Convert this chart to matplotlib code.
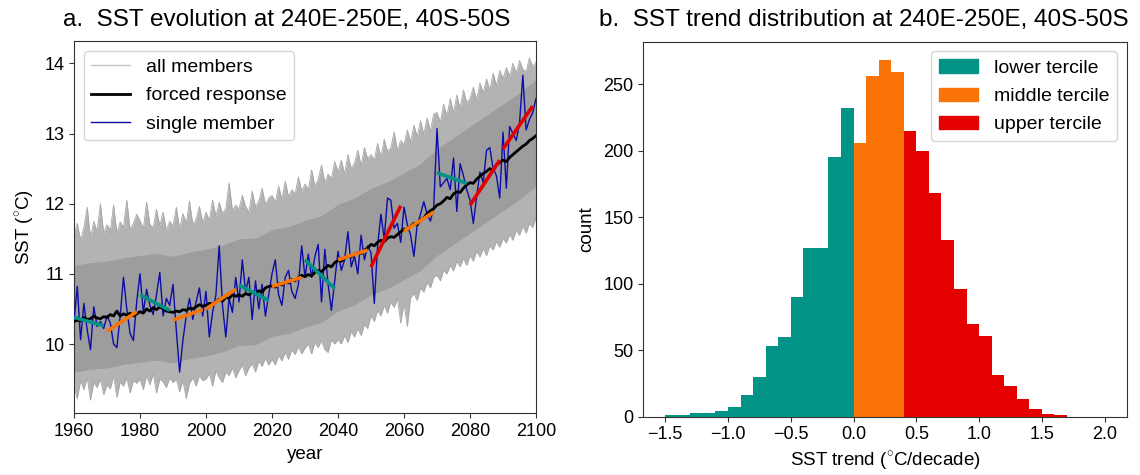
import numpy as np
import matplotlib
matplotlib.use("Agg")
import matplotlib.pyplot as plt
from matplotlib.patches import Patch

plt.rcParams['font.family'] = ['Liberation Sans', 'DejaVu Sans']
plt.rcParams['mathtext.fontset'] = 'custom'
plt.rcParams['mathtext.rm'] = 'Liberation Sans'
plt.rcParams['axes.edgecolor'] = '#333333'
plt.rcParams['xtick.color'] = '#333333'
plt.rcParams['ytick.color'] = '#333333'
plt.rcParams['xtick.labelcolor'] = 'black'
plt.rcParams['ytick.labelcolor'] = 'black'

# ---------------- panel a: SST time series ----------------
years = np.arange(1960, 2101)

forced_response = [
    10.32, 10.34, 10.33, 10.38, 10.35, 10.36, 10.40, 10.37, 10.36, 10.39,
    10.38, 10.42, 10.40, 10.47, 10.40, 10.43, 10.41, 10.44, 10.40, 10.43,
    10.46, 10.44, 10.50, 10.47, 10.52, 10.49, 10.53, 10.50, 10.47, 10.46,
    10.45, 10.47, 10.46, 10.49, 10.48, 10.51, 10.50, 10.53, 10.56, 10.54,
    10.55, 10.58, 10.57, 10.60, 10.64, 10.61, 10.67, 10.65, 10.70, 10.68,
    10.70, 10.68, 10.72, 10.70, 10.74, 10.71, 10.76, 10.74, 10.80, 10.82,
    10.83, 10.81, 10.86, 10.84, 10.88, 10.87, 10.92, 10.90, 10.95, 10.98,
    10.96, 10.99, 10.97, 11.02, 11.05, 11.03, 11.08, 11.12, 11.10, 11.16,
    11.19, 11.18, 11.22, 11.25, 11.24, 11.28, 11.30, 11.29, 11.34, 11.37,
    11.42, 11.40, 11.45, 11.48, 11.46, 11.51, 11.53, 11.52, 11.56, 11.60,
    11.64, 11.63, 11.68, 11.72, 11.70, 11.77, 11.80, 11.86, 11.90, 11.93,
    11.98, 12.00, 12.04, 12.09, 12.07, 12.14, 12.17, 12.16, 12.22, 12.27,
    12.30, 12.29, 12.35, 12.39, 12.43, 12.46, 12.50, 12.47, 12.55, 12.59,
    12.62, 12.60, 12.66, 12.70, 12.74, 12.78, 12.82, 12.85, 12.90, 12.93,
    12.97,
]

single_member = [
    10.32, 10.82, 10.06, 10.58, 10.20, 9.92, 10.53, 10.25, 10.32, 10.22,
    10.40, 10.30, 10.00, 9.95, 10.40, 10.95, 10.50, 10.15, 10.05, 10.60,
    11.00, 10.45, 10.78, 10.55, 10.42, 10.70, 11.02, 10.40, 10.65, 10.55,
    10.85, 10.20, 9.60, 10.05, 10.40, 10.65, 10.35, 10.60, 10.80, 10.40,
    10.75, 10.10, 10.45, 10.70, 11.40, 10.55, 10.10, 10.65, 10.45, 10.95,
    10.60, 11.20, 10.75, 10.95, 10.35, 10.90, 10.50, 10.85, 10.40, 10.70,
    11.00, 11.20, 10.70, 10.55, 10.95, 11.05, 10.75, 10.65, 10.85, 11.40,
    10.95, 11.28, 10.95, 11.25, 11.42, 10.60, 11.35, 10.85, 10.48, 10.90,
    11.32, 11.05, 11.20, 11.60, 11.10, 11.25, 11.00, 11.55, 11.20, 11.40,
    11.30, 10.58, 11.40, 11.85, 11.50, 12.08, 12.05, 11.65, 11.72, 11.45,
    11.95, 11.70, 11.55, 11.25, 11.70, 11.85, 12.03, 11.85, 11.75, 11.95,
    13.07, 12.24, 12.30, 12.36, 12.20, 12.65, 11.89, 12.57, 12.40, 12.20,
    12.05, 11.72, 12.10, 12.45, 12.30, 12.76, 12.80, 12.50, 12.40, 12.08,
    13.02, 12.22, 13.10, 13.00, 12.90, 13.15, 13.83, 13.05, 13.20, 13.30,
    13.50,
]

# outermost spread of the ensemble members, year by year
ensemble_max = [
    11.55, 11.72, 11.48, 11.66, 11.95, 11.52, 11.75, 11.60, 12.00, 11.58,
    11.70, 11.62, 11.98, 11.58, 11.74, 11.66, 12.05, 11.63, 11.72, 11.85,
    11.76, 11.64, 12.02, 11.70, 11.66, 11.92, 11.69, 11.88, 11.62, 11.75,
    11.68, 11.95, 11.64, 11.86, 11.72, 12.04, 11.70, 11.78, 11.96, 11.73,
    11.88, 11.76, 12.05, 11.82, 12.02, 11.86, 11.93, 12.30, 11.90, 11.98,
    11.92, 12.12, 11.96, 11.88, 12.18, 11.95, 12.04, 12.22, 11.99, 12.08,
    12.12, 12.02, 12.25, 12.06, 12.32, 12.10, 12.20, 12.14, 12.38, 12.18,
    12.28, 12.20, 12.48, 12.25, 12.35, 12.55, 12.30, 12.42, 12.36, 12.60,
    12.45, 12.62, 12.42, 12.70, 12.50, 12.58, 12.76, 12.54, 12.80, 12.64,
    12.70, 12.62, 12.86, 12.66, 12.92, 12.74, 12.80, 13.02, 12.76, 12.90,
    12.84, 13.05, 12.88, 13.12, 12.95, 13.18, 12.99, 13.22, 13.04, 13.28,
    13.30, 13.16, 13.42, 13.25, 13.50, 13.30, 13.55, 13.36, 13.62, 13.44,
    13.50, 13.66, 13.48, 13.72, 13.58, 13.78, 13.62, 13.86, 13.68, 13.90,
    13.78, 13.94, 13.82, 14.00, 13.86, 14.04, 13.92, 13.88, 14.08, 13.95,
    14.02,
]

ensemble_min = [
    9.40, 9.22, 9.48, 9.35, 9.52, 9.20, 9.45, 9.38, 9.50, 9.28,
    9.42, 9.36, 9.55, 9.24, 9.46, 9.40, 9.52, 9.30, 9.48, 9.44,
    9.50, 9.35, 9.55, 9.42, 9.58, 9.30, 9.50, 9.46, 9.38, 9.52,
    9.45, 9.50, 9.32, 9.48, 9.22, 9.44, 9.52, 9.40, 9.55, 9.48,
    9.50, 9.58, 9.40, 9.62, 9.52, 9.45, 9.60, 9.55, 9.66, 9.52,
    9.62, 9.70, 9.55, 9.66, 9.72, 9.60, 9.76, 9.68, 9.80, 9.70,
    9.78, 9.70, 9.84, 9.76, 9.88, 9.78, 9.92, 9.85, 9.96, 9.86,
    9.94, 10.00, 9.86, 10.02, 9.95, 10.05, 9.92, 9.88, 10.06, 10.00,
    10.06, 10.00, 10.12, 10.02, 10.18, 10.10, 10.22, 10.12, 10.28, 10.22,
    10.40, 10.32, 10.48, 10.40, 10.55, 10.44, 10.60, 10.52, 10.65, 10.30,
    10.58, 10.25, 10.66, 10.72, 10.62, 10.80, 10.74, 10.88, 10.80, 10.95,
    10.98, 10.90, 11.05, 11.00, 11.12, 11.04, 11.18, 11.10, 11.22, 11.12,
    11.26, 11.18, 11.32, 11.24, 11.36, 11.26, 11.40, 11.34, 11.46, 11.38,
    11.50, 11.44, 11.56, 11.48, 11.62, 11.55, 11.68, 11.58, 11.72, 11.66,
    11.80,
]

# dense core of the ensemble, every five years
core_years = [1960, 1965, 1970, 1975, 1980, 1985, 1990, 1995, 2000, 2005,
              2010, 2015, 2020, 2025, 2030, 2035, 2040, 2045, 2050, 2055,
              2060, 2065, 2070, 2075, 2080, 2085, 2090, 2095, 2100]
core_upper = [11.12, 11.16, 11.18, 11.23, 11.26, 11.29, 11.25, 11.31, 11.35,
              11.41, 11.50, 11.51, 11.63, 11.67, 11.76, 11.83, 11.99, 12.08,
              12.22, 12.31, 12.44, 12.57, 12.78, 12.94, 13.10, 13.26, 13.42,
              13.58, 13.77]
core_lower = [9.60, 9.64, 9.66, 9.71, 9.74, 9.77, 9.73, 9.79, 9.83, 9.89,
              9.98, 9.99, 10.11, 10.15, 10.24, 10.31, 10.47, 10.56, 10.70,
              10.79, 10.92, 11.05, 11.26, 11.42, 11.58, 11.74, 11.90, 12.06,
              12.25]

# decadal linear trends of the single member (value at first and last year)
trend_decades = [1960, 1970, 1980, 1990, 2000, 2010, 2020,
                 2030, 2040, 2050, 2060, 2070, 2080, 2090]
trend_start = [10.38, 10.18, 10.70, 10.34, 10.50, 10.84, 10.82,
               11.20, 11.20, 11.10, 11.61, 12.44, 11.98, 12.78]
trend_end = [10.26, 10.46, 10.48, 10.49, 10.78, 10.62, 10.95,
             10.79, 11.34, 11.97, 11.88, 12.29, 12.62, 13.39]

# ---------------- panel b: distribution of decadal trends ----------------
trend_bin_edges = np.linspace(-1.5, 2.0, 36)
trend_counts = [1, 1, 3, 3, 4, 7, 16, 30, 53, 60, 90, 127, 127, 195, 232,
                206, 256, 268, 259,
                215, 200, 168, 133, 96, 70, 61, 31, 23, 13, 6, 2, 1,
                0, 0, 0]
tercile_bounds = [0.0, 0.4]
tercile_labels = ['lower tercile', 'middle tercile', 'upper tercile']
tercile_colors = ['#029386', '#f97306', '#e50000']


def tercile_index(value):
    if value < tercile_bounds[0] - 1e-9:
        return 0
    if value < tercile_bounds[1] - 1e-9:
        return 1
    return 2


LABEL_FS = 13.5
TICK_FS = 13
LEGEND_FS = 14
TITLE_FS = 17.5
MEMBER_BLUE = '#0c0ca8'

fig = plt.figure(figsize=(11.4, 4.75), dpi=100)
ax1 = fig.add_axes([0.0649, 0.1295, 0.4053, 0.7844])
ax2 = fig.add_axes([0.5643, 0.1227, 0.4240, 0.7895])

# ensemble spread
ax1.fill_between(years, ensemble_min, ensemble_max, color='#b3b3b3', lw=0, zorder=1)
ax1.plot(years, ensemble_max, color='#a6a6a6', lw=0.6, zorder=1)
ax1.plot(years, ensemble_min, color='#a6a6a6', lw=0.6, zorder=1)
ax1.fill_between(core_years, core_lower, core_upper, color='#9d9d9d', lw=0, zorder=2)
ax1.plot([], [], color='#c4c4c4', lw=1.0, label='all members')

ax1.plot(years, single_member, color=MEMBER_BLUE, lw=1.0, zorder=3, label='_single')
ax1.plot(years, forced_response, color='black', lw=2.0, zorder=4, label='forced response')
ax1.plot([], [], color=MEMBER_BLUE, lw=1.0, label='single member')

for start, v0, v1 in zip(trend_decades, trend_start, trend_end):
    slope = (v1 - v0) / 0.9  # per decade
    ax1.plot([start, start + 9], [v0, v1], color=tercile_colors[tercile_index(slope)],
             lw=2.6, solid_capstyle='butt', zorder=5)

ax1.set_xlim(1960, 2100)
ax1.set_ylim(9.01, 14.32)
ax1.set_xticks(np.arange(1960, 2101, 20))
ax1.set_yticks([10, 11, 12, 13, 14])
ax1.set_xlabel('year', fontsize=LABEL_FS)
ax1.set_ylabel(r'SST ($^{\circ}$C)', fontsize=LABEL_FS, labelpad=6)
ax1.set_title('a.  SST evolution at 240E-250E, 40S-50S', fontsize=TITLE_FS, x=0.46, pad=11)
ax1.tick_params(labelsize=TICK_FS)
h, l = ax1.get_legend_handles_labels()
order = [l.index('all members'), l.index('forced response'), l.index('single member')]
ax1.legend([h[i] for i in order], [l[i] for i in order], loc='upper left',
           fontsize=LEGEND_FS, frameon=True, borderaxespad=0.5, labelspacing=0.55)

# histogram of trends
bar_colors = [tercile_colors[tercile_index(e + 1e-6)] for e in trend_bin_edges[:-1]]
ax2.bar(trend_bin_edges[:-1], trend_counts, width=np.diff(trend_bin_edges),
        align='edge', color=bar_colors, lw=0)
ax2.set_xlim(-1.675, 2.175)
ax2.set_ylim(0, 282)
ax2.set_xticks([-1.5, -1.0, -0.5, 0.0, 0.5, 1.0, 1.5, 2.0])
ax2.set_yticks([0, 50, 100, 150, 200, 250])
ax2.set_xlabel(r'SST trend ($^{\circ}$C/decade)', fontsize=LABEL_FS)
ax2.set_ylabel('count', fontsize=LABEL_FS, labelpad=6)
ax2.set_title('b.  SST trend distribution at 240E-250E, 40S-50S', fontsize=TITLE_FS,
              x=0.4566, pad=11)
ax2.tick_params(labelsize=TICK_FS)
ax2.legend(handles=[Patch(color=c, label=t) for c, t in zip(tercile_colors, tercile_labels)],
           loc='upper right', fontsize=LEGEND_FS, borderaxespad=0.5, labelspacing=0.55)

fig.savefig('out.png', dpi=100)
